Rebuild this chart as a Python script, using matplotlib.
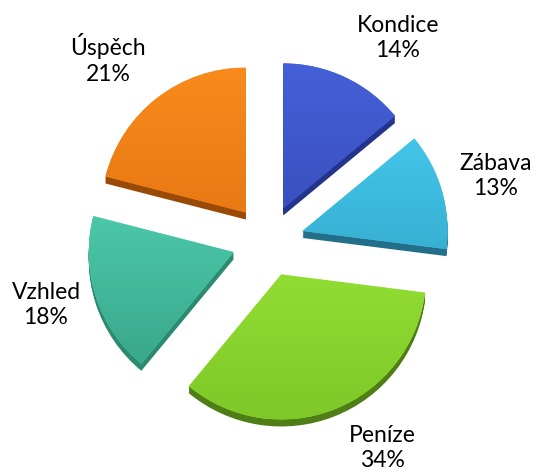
import matplotlib
matplotlib.use('Agg')
import matplotlib.pyplot as plt
import numpy as np
from matplotlib.colors import to_rgb

# data
labels = ['Kondice', 'Zábava', 'Peníze', 'Vzhled', 'Úspěch']
values = [14, 13, 34, 18, 21]

# styles
light = ['#4560D8', '#48CFF2', '#A6F23E', '#58E0BE', '#F98A1C']
dark = ['#2E40A5', '#2C98BC', '#7EC828', '#36A084', '#D8680C']
side = ['#24338C', '#236E88', '#4F7D16', '#2C8A70', '#994A06']
label_pos = [(398, 38), (496, 176), (382, 448), (46, 305), (108, 59)]

W, H = 538, 471
fig = plt.figure(figsize=(W / 100, H / 100), dpi=100)
ax = fig.add_axes([0, 0, 1, 1])

cx, cy = 268, H - 241
r = 145
explode = [36] * len(values)  # pie uses absolute offset here

# side of the 3d pie (darker copy, shifted down)
for k in range(1, 8):
    ax.pie(values, colors=side, startangle=90, counterclock=False,
           explode=explode, radius=r, center=(cx, cy - k),
           wedgeprops=dict(linewidth=0, zorder=1))

wedges, _ = ax.pie(values, colors=light, startangle=90, counterclock=False,
                   explode=explode, radius=r, center=(cx, cy),
                   wedgeprops=dict(linewidth=0, zorder=2))

# vertical gradient on each wedge top face
for w, c1, c2 in zip(wedges, light, dark):
    x0, y0 = w.center
    n = 200
    t = np.linspace(0, 1, n)[:, None]
    a, b = np.array(to_rgb(c2)), np.array(to_rgb(c1))
    img = (a + (b - a) * t)[:, None, :]
    im = ax.imshow(img, extent=(x0 - r, x0 + r, y0 - r, y0 + r),
                   origin='lower', aspect='auto', zorder=3,
                   interpolation='bilinear')
    im.set_clip_path(w)

for (px, py), lab, v in zip(label_pos, labels, values):
    ax.text(px, H - py, f'{lab}\n{v}%', ha='center', va='center',
            fontsize=16.5, family='Lato', linespacing=1.25, color='black')

ax.set_xlim(0, W)
ax.set_ylim(0, H)
ax.set_aspect('auto')
ax.axis('off')
fig.savefig('out.png', dpi=100)
